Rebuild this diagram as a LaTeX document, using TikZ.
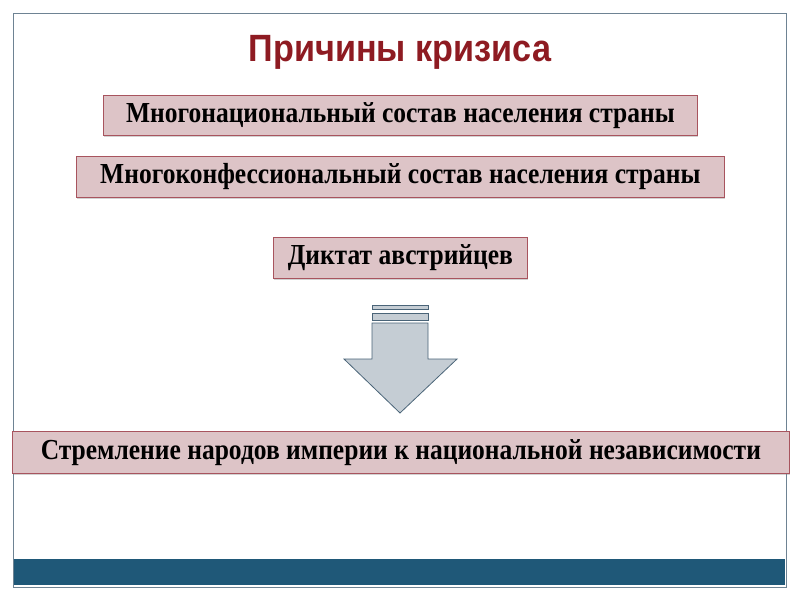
\documentclass[tikz,border=0pt]{standalone}
\usepackage{fontspec}
\setmainfont{Liberation Serif}
\newfontfamily\titlefont[FakeStretch=0.9]{Liberation Sans}
\newfontfamily\boxfont[FakeStretch=0.88]{Liberation Serif}
\usetikzlibrary{shadows}
\definecolor{boxfill}{HTML}{DDC4C7}
\definecolor{boxline}{HTML}{A8545E}
\definecolor{titlered}{HTML}{8E1B22}
\definecolor{band}{HTML}{1F5878}
\definecolor{arrowfill}{HTML}{C5CDD4}
\definecolor{arrowline}{HTML}{4A6478}
\tikzset{
  causebox/.style={draw=boxline, fill=boxfill, line width=0.8pt, inner sep=0pt, anchor=north west,
    font=\boxfont\bfseries\fontsize{29}{31}\selectfont, align=center,
    drop shadow={shadow xshift=1pt, shadow yshift=-2pt, opacity=0.35}},
}
\begin{document}
\begin{tikzpicture}[x=1pt,y=-1pt]
\useasboundingbox (0,0) rectangle (800,600);
\fill[white] (0,0) rectangle (800,600);
\draw[arrowline!80, line width=0.8pt] (13,13) rectangle (786,587);
\fill[band] (14,559) rectangle (785,585);
\node[font=\titlefont\bfseries\fontsize{38}{40}\selectfont, text=titlered] (title) at (400,52) {Причины кризиса};
\node[causebox, minimum width=594pt, minimum height=40pt] (b1) at (103,95) {Многонациональный состав населения страны};
\node[causebox, minimum width=648pt, minimum height=41pt] (b2) at (76,156) {Многоконфессиональный состав населения страны};
\node[causebox, minimum width=254pt, minimum height=41pt] (b3) at (273,237) {Диктат австрийцев};
\node[causebox, minimum width=777pt, minimum height=42pt] (b4) at (12,431) {Стремление народов империи к национальной независимости};
\begin{scope}[draw=arrowline, fill=arrowfill, line width=0.8pt, line join=miter]
\filldraw (372,305) rectangle (428,309);
\filldraw (372,313) rectangle (428,320);
\filldraw (372,323) -- (428,323) -- (428,359) -- (457,359) -- (400,413) -- (344,359) -- (372,359) -- cycle;
\end{scope}
\end{tikzpicture}
\end{document}
